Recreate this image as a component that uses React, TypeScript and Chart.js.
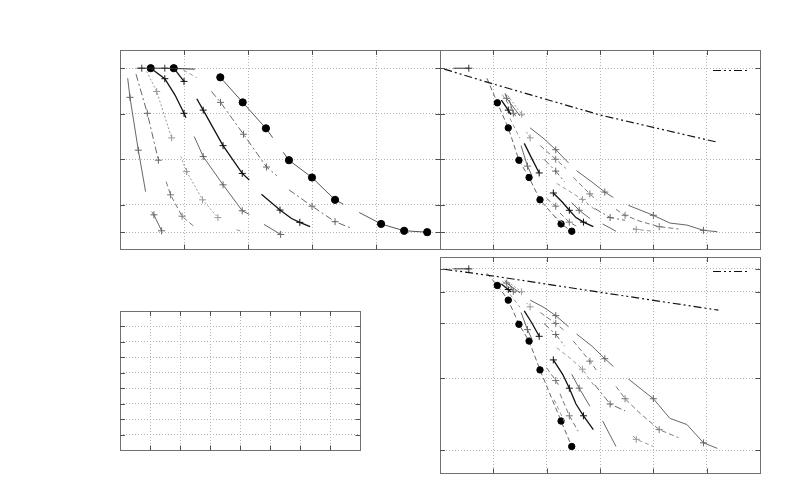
import React, { useEffect, useRef } from 'react';
import { Chart, registerables } from 'chart.js';
Chart.register(...registerables);

// ---------------- tick values ----------------
const P1_X_TICKS = [1, 2, 3, 4];
const P23_X_TICKS = [1, 2, 3, 4, 5];
const Y_TICKS = [0.4, 1, 2, 3, 4];
const P4_X_TICKS = [1, 2, 3, 4, 5, 6, 7];
const P4_Y_TICKS = [1, 2, 3, 4, 5, 6, 7, 8];

// ---------------- panel 1 data ----------------
const P1_A_X = [0.12, 0.156, 0.286, 0.4];
const P1_A_Y = [3.78, 3.36, 2.2, 1.29];
const P1_B_X = [0.25, 0.427, 0.6];
const P1_B_Y = [3.87, 3.01, 1.98];
const P1_C_X = [0.417, 0.573, 0.807];
const P1_C_Y = [3.93, 3.49, 2.47];
const P1_D_X = [0.48, 0.7, 0.86, 1.0, 1.03];
const P1_D_Y = [4.0, 3.77, 3.41, 3.01, 2.91];
const P1_E_X = [0.84, 1.0];
const P1_E_Y = [4.0, 3.71];
const P1_F_X = [0.26, 0.34, 0.7, 1.17];
const P1_F_Y = [4.0, 4.0, 4.0, 3.98];
const P1_F2_X = [0.99, 1.2];
const P1_F2_Y = [3.96, 3.79];
const P1_G_X = [1.2, 1.3, 1.61, 1.91, 2.02];
const P1_G_Y = [3.33, 3.08, 2.3, 1.69, 1.545];
const P1_H_X = [1.43, 1.57, 1.93, 2.29, 2.45];
const P1_H_Y = [3.49, 3.25, 2.55, 1.83, 1.64];
const P1_I_X = [1.16, 1.3, 1.61, 1.91, 2.02];
const P1_I_Y = [2.5, 2.06, 1.44, 0.87, 0.79];
const P1_J_X = [0.95, 1.04, 1.29, 1.53];
const P1_J_Y = [2.06, 1.73, 1.11, 0.72];
const P1_K_X = [0.72, 0.79, 0.97, 1.16];
const P1_K_Y = [1.51, 1.22, 0.75, 0.52];
const P1_L_X = [0.495, 0.53, 0.65];
const P1_L_Y = [0.85, 0.78, 0.43];
const P1_M_X = [2.21, 2.5, 2.68, 2.81, 2.97];
const P1_M_Y = [1.23, 0.885, 0.7, 0.615, 0.52];
const P1_N_X = [2.64, 3.0, 3.36, 3.59];
const P1_N_Y = [1.33, 0.97, 0.63, 0.5];
const P1_O_X = [2.25, 2.51];
const P1_O_Y = [0.57, 0.35];
const P1_P_X = [1.82, 1.93];
const P1_P_Y = [0.45, 0.41];
const P1_DOT_X = [0.48, 0.84];
const P1_DOT_Y = [4.0, 4.0];
const P1_CHAIN_X = [1.567, 1.917, 2.28, 2.64, 3.0, 3.36, 4.08, 4.44, 4.8];
const P1_CHAIN_Y = [3.8, 3.25, 2.68, 1.98, 1.6, 1.11, 0.58, 0.43, 0.4];

// ---------------- panels 2 & 3 data (same series, linear / log y) ----------------
const Q_REF_X = [0.08, 1.01, 3.01, 5.22];
const Q_REF_Y = [3.98, 3.65, 2.97, 2.37];
const Q_ARROW_X = [0.25, 0.54];
const Q_ARROW_Y = [4.0, 4.0];
const Q_CHAIN_X = [0.88, 1.075, 1.28, 1.48, 1.67, 1.875, 2.27, 2.47];
const Q_CHAIN_Y = [3.78, 3.24, 2.69, 1.98, 1.6, 1.11, 0.58, 0.42];
const Q_C1_X = [1.17, 1.44];
const Q_C1_Y = [3.42, 2.92];
const Q_C2_X = [1.22, 1.25, 1.5];
const Q_C2_Y = [3.45, 3.34, 2.95];
const Q_C3_X = [1.27, 1.53, 1.56];
const Q_C3_Y = [3.4, 2.99, 2.95];
const Q_C4_X = [1.15, 1.28, 1.33];
const Q_C4_Y = [3.3, 3.08, 2.98];
const Q_C5_X = [1.3, 1.375, 1.42];
const Q_C5_Y = [3.3, 3.01, 2.95];
const Q_C6_X = [1.31, 1.5];
const Q_C6_Y = [2.9, 2.46];
const Q_M1_X = [1.69, 1.95, 2.17, 2.41];
const Q_M1_Y = [2.69, 2.45, 2.21, 1.92];
const Q_M2_X = [1.88, 2.17, 2.36];
const Q_M2_Y = [2.3, 2.0, 1.8];
const Q_M3_X = [1.95, 2.17, 2.34];
const Q_M3_Y = [2.0, 1.74, 1.5];
const Q_M4_X = [1.58, 1.72, 1.86];
const Q_M4_Y = [2.35, 2.02, 1.7];
const Q_M5_X = [1.52, 1.64, 1.72];
const Q_M5_Y = [2.3, 1.85, 1.65];
const Q_M6_X = [1.62, 1.69];
const Q_M6_Y = [2.6, 2.47];
const Q_L1_X = [2.56, 2.85, 3.09, 3.25];
const Q_L1_Y = [1.75, 1.5, 1.28, 1.16];
const Q_L2_X = [2.5, 2.81, 2.94];
const Q_L2_Y = [1.6, 1.24, 1.1];
const Q_L3_X = [2.19, 2.45, 2.67, 2.91];
const Q_L3_Y = [1.47, 1.28, 1.12, 0.89];
const Q_L4_X = [2.125, 2.3, 2.425, 2.55, 2.69, 2.875];
const Q_L4_Y = [1.26, 1.05, 0.88, 0.72, 0.62, 0.52];
const Q_L5_X = [2.47, 2.61, 2.81];
const Q_L5_Y = [1.05, 0.88, 0.7];
const Q_L6_X = [2.25, 2.425, 2.59];
const Q_L6_Y = [0.82, 0.62, 0.51];
const Q_L7_X = [2.0, 2.17, 2.22];
const Q_L7_Y = [1.14, 0.97, 0.92];
const Q_L8_X = [2.14, 2.34];
const Q_L8_Y = [0.76, 0.57];
const Q_L9_X = [3.05, 3.3];
const Q_L9_Y = [0.58, 0.42];
const Q_R1_X = [3.53, 4.0, 4.31, 4.63, 4.94, 5.2];
const Q_R1_Y = [0.99, 0.77, 0.6, 0.555, 0.44, 0.41];
const Q_R2_X = [2.9, 3.19, 3.47];
const Q_R2_Y = [0.92, 0.72, 0.66];
const Q_R3_X = [3.3, 3.47, 3.75, 4.11, 4.47];
const Q_R3_Y = [0.9, 0.77, 0.64, 0.52, 0.47];
const Q_R4_X = [3.62, 3.68, 4.0];
const Q_R4_Y = [0.48, 0.46, 0.42];

// ---------------- styles ----------------
type Style = { color: string; dash: number[]; width: number; point: string; r: number; fill?: string; noLine?: boolean };
const STYLES: Record<string, Style> = {
  black: { color: '#111', dash: [], width: 1.3, point: 'cross', r: 3.5 },
  dark: { color: '#333', dash: [], width: 1, point: 'cross', r: 3.5 },
  graySolid: { color: '#666', dash: [], width: 1, point: 'cross', r: 3.5 },
  grayDash: { color: '#777', dash: [5, 3], width: 1, point: 'cross', r: 3.5 },
  grayDashDot: { color: '#666', dash: [7, 3, 2, 3], width: 1, point: 'cross', r: 3.5 },
  lightDot: { color: '#999', dash: [2, 2], width: 1, point: 'cross', r: 3.5 },
  lightDash: { color: '#999', dash: [4, 3], width: 1, point: 'cross', r: 3.5 },
  ref: { color: '#111', dash: [8, 3, 2, 3, 2, 3], width: 1.2, point: 'cross', r: 0 },
  chain1: { color: '#555', dash: [80, 18], width: 1, point: 'circle', r: 3.6, fill: '#000' },
  chain2: { color: '#666', dash: [5, 3], width: 1, point: 'circle', r: 3.2, fill: '#000' },
  dots: { color: '#000', dash: [], width: 0, point: 'circle', r: 3.6, fill: '#000', noLine: true },
};

type Series = { x: number[]; y: number[]; mark: number[] | 'all'; st: string };

const P1_SERIES: Series[] = [
  { x: P1_A_X, y: P1_A_Y, mark: [1, 2], st: 'graySolid' },
  { x: P1_B_X, y: P1_B_Y, mark: [1, 2], st: 'grayDashDot' },
  { x: P1_C_X, y: P1_C_Y, mark: [1, 2], st: 'lightDot' },
  { x: P1_D_X, y: P1_D_Y, mark: [1, 3], st: 'black' },
  { x: P1_E_X, y: P1_E_Y, mark: [1], st: 'black' },
  { x: P1_F_X, y: P1_F_Y, mark: [1, 2], st: 'dark' },
  { x: P1_F2_X, y: P1_F2_Y, mark: [], st: 'lightDash' },
  { x: P1_G_X, y: P1_G_Y, mark: [1, 2, 3], st: 'black' },
  { x: P1_H_X, y: P1_H_Y, mark: [1, 2, 3], st: 'grayDashDot' },
  { x: P1_I_X, y: P1_I_Y, mark: [1, 2, 3], st: 'graySolid' },
  { x: P1_J_X, y: P1_J_Y, mark: [1, 2, 3], st: 'lightDot' },
  { x: P1_K_X, y: P1_K_Y, mark: [1, 2], st: 'grayDash' },
  { x: P1_L_X, y: P1_L_Y, mark: [1, 2], st: 'graySolid' },
  { x: P1_M_X, y: P1_M_Y, mark: [1, 3], st: 'black' },
  { x: P1_N_X, y: P1_N_Y, mark: [1, 2], st: 'grayDashDot' },
  { x: P1_O_X, y: P1_O_Y, mark: [1], st: 'graySolid' },
  { x: P1_P_X, y: P1_P_Y, mark: [], st: 'lightDash' },
  { x: P1_DOT_X, y: P1_DOT_Y, mark: 'all', st: 'dots' },
  { x: P1_CHAIN_X, y: P1_CHAIN_Y, mark: 'all', st: 'chain1' },
];

const Q_SERIES: Series[] = [
  { x: Q_REF_X, y: Q_REF_Y, mark: [], st: 'ref' },
  { x: Q_ARROW_X, y: Q_ARROW_Y, mark: [1], st: 'dark' },
  { x: Q_C1_X, y: Q_C1_Y, mark: [], st: 'lightDash' },
  { x: Q_C2_X, y: Q_C2_Y, mark: [1], st: 'graySolid' },
  { x: Q_C3_X, y: Q_C3_Y, mark: [1], st: 'lightDot' },
  { x: Q_C4_X, y: Q_C4_Y, mark: [1], st: 'black' },
  { x: Q_C5_X, y: Q_C5_Y, mark: [1], st: 'graySolid' },
  { x: Q_C6_X, y: Q_C6_Y, mark: [], st: 'lightDash' },
  { x: Q_M1_X, y: Q_M1_Y, mark: [2], st: 'graySolid' },
  { x: Q_M2_X, y: Q_M2_Y, mark: [1], st: 'grayDash' },
  { x: Q_M3_X, y: Q_M3_Y, mark: [1], st: 'grayDashDot' },
  { x: Q_M4_X, y: Q_M4_Y, mark: [2], st: 'black' },
  { x: Q_M5_X, y: Q_M5_Y, mark: [1], st: 'graySolid' },
  { x: Q_M6_X, y: Q_M6_Y, mark: [1], st: 'lightDot' },
  { x: Q_L1_X, y: Q_L1_Y, mark: [2], st: 'graySolid' },
  { x: Q_L2_X, y: Q_L2_Y, mark: [1], st: 'grayDash' },
  { x: Q_L3_X, y: Q_L3_Y, mark: [2], st: 'lightDash' },
  { x: Q_L4_X, y: Q_L4_Y, mark: [0, 2, 4], st: 'black' },
  { x: Q_L5_X, y: Q_L5_Y, mark: [1], st: 'graySolid' },
  { x: Q_L6_X, y: Q_L6_Y, mark: [1], st: 'grayDash' },
  { x: Q_L7_X, y: Q_L7_Y, mark: [1], st: 'grayDash' },
  { x: Q_L8_X, y: Q_L8_Y, mark: [], st: 'lightDash' },
  { x: Q_L9_X, y: Q_L9_Y, mark: [], st: 'graySolid' },
  { x: Q_R1_X, y: Q_R1_Y, mark: [1, 4], st: 'graySolid' },
  { x: Q_R2_X, y: Q_R2_Y, mark: [1], st: 'grayDashDot' },
  { x: Q_R3_X, y: Q_R3_Y, mark: [1, 3], st: 'grayDash' },
  { x: Q_R4_X, y: Q_R4_Y, mark: [1], st: 'lightDash' },
  { x: Q_CHAIN_X, y: Q_CHAIN_Y, mark: [1, 2, 3, 4, 5, 6, 7], st: 'chain2' },
];

function toDataset(s: Series) {
  const st = STYLES[s.st];
  return {
    data: s.x.map((v, i) => ({ x: v, y: s.y[i] })),
    showLine: !st.noLine,
    borderColor: st.color,
    borderWidth: st.width,
    borderDash: st.dash,
    pointStyle: st.point,
    pointRadius: s.x.map((_, i) => (s.mark === 'all' || s.mark.includes(i) ? st.r : 0)),
    pointHoverRadius: 0,
    pointBorderColor: st.fill ?? st.color,
    pointBackgroundColor: st.fill ?? st.color,
    pointBorderWidth: 1,
    tension: 0,
    fill: false,
  };
}

const framePlugin = {
  id: 'frame',
  afterDraw(chart: any, _a: any, opts: any) {
    const { ctx, chartArea: a } = chart;
    const xs = chart.scales.x;
    const ys = chart.scales.y;
    ctx.save();
    ctx.setLineDash([]);
    ctx.lineWidth = 1;
    ctx.strokeStyle = '#707070';
    ctx.strokeRect(a.left + 0.5, a.top + 0.5, a.right - a.left, a.bottom - a.top);
    ctx.strokeStyle = '#505050';
    const L = 5;
    ctx.beginPath();
    xs.ticks.forEach((t: any) => {
      const p = Math.round(xs.getPixelForValue(t.value)) + 0.5;
      ctx.moveTo(p, a.top);
      ctx.lineTo(p, a.top + L);
      ctx.moveTo(p, a.bottom + 0.5);
      ctx.lineTo(p, a.bottom + 0.5 - L);
    });
    ys.ticks.forEach((t: any) => {
      const p = Math.round(ys.getPixelForValue(t.value)) + 0.5;
      ctx.moveTo(a.left, p);
      ctx.lineTo(a.left + L, p);
      ctx.moveTo(a.right + 0.5, p);
      ctx.lineTo(a.right + 0.5 - L, p);
    });
    ctx.stroke();
    if (opts && opts.key) {
      ctx.strokeStyle = '#111';
      ctx.lineWidth = 1.2;
      ctx.setLineDash(STYLES.ref.dash);
      const y = a.top + opts.key.dy + 0.5;
      ctx.beginPath();
      ctx.moveTo(a.right - 47, y);
      ctx.lineTo(a.right - 13, y);
      ctx.stroke();
    }
    ctx.restore();
  },
};

function axis(type: string, min: number, max: number, ticks: number[]) {
  return {
    type,
    min,
    max,
    display: true,
    afterBuildTicks: (s: any) => {
      s.ticks = ticks.map((v) => ({ value: v }));
    },
    ticks: { display: false },
    grid: { color: '#b4b4b4', lineWidth: 1, drawTicks: false },
    border: { display: false, dash: [1, 2] },
  };
}

const PAD = 6;
type Box = { l: number; t: number; w: number; h: number };

function Panel({ box, series, xAxis, yAxis, keyDy }: { box: Box; series: Series[]; xAxis: any; yAxis: any; keyDy?: number }) {
  const ref = useRef<HTMLCanvasElement>(null);
  useEffect(() => {
    const chart = new Chart(ref.current as HTMLCanvasElement, {
      type: 'scatter',
      data: { datasets: series.map(toDataset) as any },
      options: {
        animation: false,
        responsive: false,
        events: [],
        layout: { padding: PAD },
        scales: { x: xAxis, y: yAxis },
        plugins: {
          legend: { display: false },
          tooltip: { enabled: false },
          frame: keyDy !== undefined ? { key: { dy: keyDy } } : {},
        } as any,
      } as any,
      plugins: [framePlugin as any],
    });
    return () => chart.destroy();
  }, []);
  const W = box.w + 2 * PAD;
  const H = box.h + 2 * PAD;
  return (
    <canvas
      ref={ref}
      width={W}
      height={H}
      style={{ position: 'absolute', left: box.l - PAD, top: box.t - PAD, width: W, height: H }}
    />
  );
}

export default function App() {
  return (
    <div style={{ position: 'fixed', left: 0, top: 0, width: 800, height: 500, background: '#fff', overflow: 'hidden' }}>
      <Panel
        box={{ l: 120, t: 50, w: 320, h: 199 }}
        series={P1_SERIES}
        xAxis={axis('linear', 0, 5, P1_X_TICKS)}
        yAxis={axis('linear', 0.03, 4.4, Y_TICKS)}
      />
      <Panel
        box={{ l: 440, t: 50, w: 320, h: 199 }}
        series={Q_SERIES}
        xAxis={axis('linear', 0, 6, P23_X_TICKS)}
        yAxis={axis('linear', 0.03, 4.4, Y_TICKS)}
        keyDy={20}
      />
      <Panel
        box={{ l: 440, t: 257, w: 320, h: 216 }}
        series={Q_SERIES}
        xAxis={axis('linear', 0, 6, P23_X_TICKS)}
        yAxis={axis('logarithmic', 0.327, 4.65, Y_TICKS)}
        keyDy={14}
      />
      <Panel
        box={{ l: 120, t: 311, w: 240, h: 139 }}
        series={[]}
        xAxis={axis('linear', 0, 8, P4_X_TICKS)}
        yAxis={axis('linear', 0, 9, P4_Y_TICKS)}
      />
    </div>
  );
}
